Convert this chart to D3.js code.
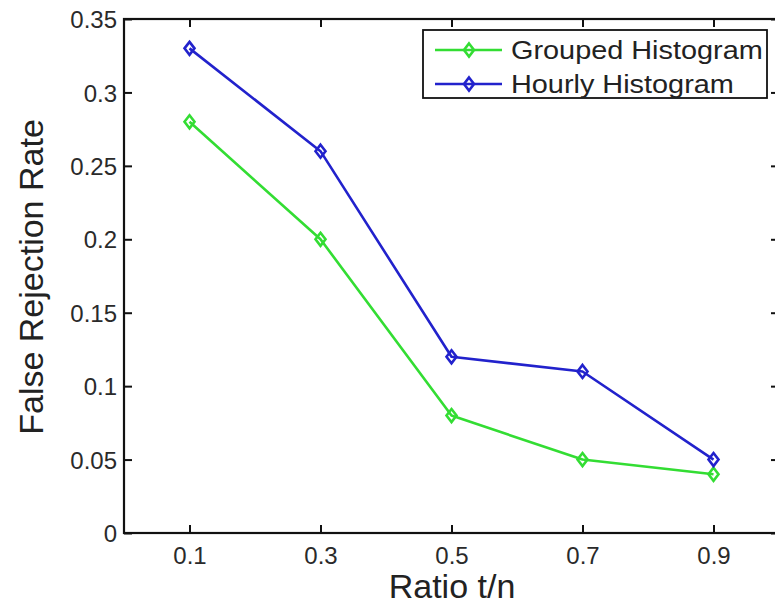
<!DOCTYPE html>
<html>
<head>
<meta charset="utf-8">
<script src="https://cdn.jsdelivr.net/npm/d3@7"></script>
<style>
  html, body { margin: 0; padding: 0; background: #fff; overflow: hidden; }
  svg { display: block; font-family: "Liberation Sans", Arial, Helvetica, sans-serif; }
</style>
</head>
<body>
<svg id="chart" width="775" height="607"></svg>
<script>
// Ratio t/n values on the x axis
const ratios = [0.1, 0.3, 0.5, 0.7, 0.9];
// False rejection rate for each histogram method
const groupedValues = [0.28, 0.20, 0.08, 0.05, 0.04];
const hourlyValues = [0.33, 0.26, 0.12, 0.11, 0.05];
// Tick positions and labels
const xTicks = [0.1, 0.3, 0.5, 0.7, 0.9];
const yTicks = [0, 0.05, 0.1, 0.15, 0.2, 0.25, 0.3, 0.35];
const yTickLabels = ["0", "0.05", "0.1", "0.15", "0.2", "0.25", "0.3", "0.35"];
const seriesNames = ["Grouped Histogram", "Hourly Histogram"];
const seriesColors = ["#33dd33", "#2222cc"];

const svg = d3.select("#chart");
const plot = { left: 124, right: 779, top: 19, bottom: 533 };

const x = d3.scaleLinear().domain([0, 1]).range([plot.left, plot.right]);
const y = d3.scaleLinear().domain([0, 0.35]).range([plot.bottom, plot.top]);

const tickLen = 8;
const tickFont = 24;

// Bottom axis with inward ticks
const bottomAxis = svg.append("g")
  .attr("transform", `translate(0,${plot.bottom})`)
  .call(d3.axisBottom(x).tickValues(xTicks).tickSizeInner(-tickLen).tickSizeOuter(0)
    .tickPadding(14).tickFormat(d3.format(".1f")));
// Left axis with inward ticks
const leftAxis = svg.append("g")
  .attr("transform", `translate(${plot.left},0)`)
  .call(d3.axisLeft(y).tickValues(yTicks).tickSizeInner(-tickLen).tickSizeOuter(0)
    .tickPadding(7).tickFormat((d, i) => yTickLabels[i]));
// Mirrored ticks on the top and right edges
svg.append("g")
  .attr("transform", `translate(0,${plot.top})`)
  .call(d3.axisTop(x).tickValues(xTicks).tickSizeInner(-tickLen).tickSizeOuter(0).tickFormat(""));
svg.append("g")
  .attr("transform", `translate(${plot.right},0)`)
  .call(d3.axisRight(y).tickValues(yTicks).tickSizeInner(-tickLen).tickSizeOuter(0).tickFormat(""));

svg.selectAll(".domain").remove();
svg.selectAll(".tick line").attr("stroke", "#111").attr("stroke-width", 2);
svg.selectAll(".tick text")
  .attr("fill", "#2a2a2a")
  .style("font-size", tickFont + "px")
  .style("font-family", "'Liberation Sans', Arial, sans-serif");
bottomAxis.selectAll(".tick text").attr("dy", "0.71em");
leftAxis.selectAll(".tick text").attr("dy", "0.36em");

// Axes box
svg.append("rect")
  .attr("x", plot.left).attr("y", plot.top)
  .attr("width", plot.right - plot.left).attr("height", plot.bottom - plot.top)
  .attr("fill", "none").attr("stroke", "#111").attr("stroke-width", 2.2);

// Axis titles
svg.append("text")
  .attr("x", 452).attr("y", 598)
  .attr("text-anchor", "middle")
  .attr("fill", "#222")
  .style("font-size", "34px")
  .text("Ratio t/n");
svg.append("text")
  .attr("transform", "translate(43,277) rotate(-90)")
  .attr("text-anchor", "middle")
  .attr("fill", "#222")
  .style("font-size", "34px")
  .text("False Rejection Rate");

// Diamond marker path
const diamond = (cx, cy) => `M${cx},${cy - 6.5}L${cx + 5},${cy}L${cx},${cy + 6.5}L${cx - 5},${cy}Z`;

const series = [
  { name: seriesNames[0], values: groupedValues, color: seriesColors[0] },
  { name: seriesNames[1], values: hourlyValues, color: seriesColors[1] }
];

const line = d3.line().x(d => x(d[0])).y(d => y(d[1]));

series.forEach(s => {
  const pts = ratios.map((r, i) => [r, s.values[i]]);
  const g = svg.append("g");
  g.append("path")
    .attr("d", line(pts))
    .attr("fill", "none")
    .attr("stroke", s.color)
    .attr("stroke-width", 2.6)
    .attr("stroke-linejoin", "round");
  g.selectAll("path.marker")
    .data(pts)
    .join("path")
    .attr("class", "marker")
    .attr("d", d => diamond(x(d[0]), y(d[1])))
    .attr("fill", "none")
    .attr("stroke", s.color)
    .attr("stroke-width", 2.6);
});

// Legend
const legend = svg.append("g");
legend.append("rect")
  .attr("x", 423).attr("y", 30).attr("width", 344).attr("height", 68)
  .attr("fill", "#fff").attr("stroke", "#111").attr("stroke-width", 1.8);
series.forEach((s, i) => {
  const ly = 50 + i * 34;
  legend.append("line")
    .attr("x1", 435).attr("x2", 502).attr("y1", ly).attr("y2", ly)
    .attr("stroke", s.color).attr("stroke-width", 2.6);
  legend.append("path")
    .attr("d", diamond(469, ly))
    .attr("fill", "none").attr("stroke", s.color).attr("stroke-width", 2.6);
  legend.append("text")
    .attr("transform", `translate(511,${ly}) scale(1.11,1)`)
    .attr("dy", "0.36em")
    .attr("fill", "#222")
    .style("font-size", "26px")
    .text(s.name);
});
</script>
</body>
</html>
